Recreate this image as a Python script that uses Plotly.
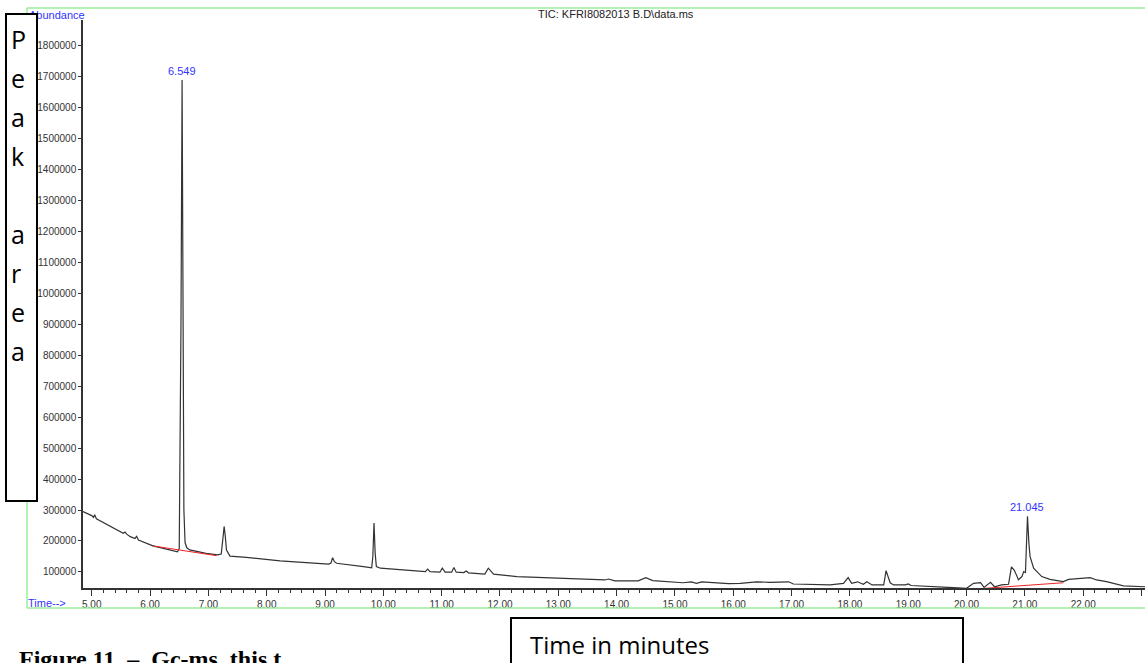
import plotly.graph_objects as go

# ---------------- data ----------------
times = [4.85, 5.00, 5.03, 5.05, 5.08, 5.37, 5.54, 5.57, 5.60, 5.66, 5.74, 5.77, 5.80,
         6.05, 6.29, 6.47, 6.50, 6.53, 6.549, 6.565, 6.58, 6.60, 6.63, 6.68, 6.96, 7.16,
         7.22, 7.25, 7.27, 7.29, 7.31, 7.37, 7.65, 8.23, 8.80, 9.06, 9.10, 9.13, 9.16, 9.20,
         9.66, 9.80, 9.82, 9.84, 9.86, 9.88, 9.95, 10.46, 10.72, 10.76, 10.80, 10.97, 11.01,
         11.06, 11.17, 11.21, 11.25, 11.38, 11.42, 11.46, 11.74, 11.80, 11.89, 12.29, 12.97,
         13.43, 13.80, 13.86, 13.97, 14.37, 14.50, 14.62, 15.14, 15.28, 15.37, 15.46, 15.60,
         15.92, 16.12, 16.40, 16.63, 16.95, 17.03, 17.66, 17.89, 17.97, 18.03, 18.13, 18.23,
         18.29, 18.38, 18.58, 18.62, 18.69, 18.75, 18.95, 19.00, 19.05, 19.78, 20.00, 20.12,
         20.24, 20.30, 20.41, 20.48, 20.60, 20.72, 20.77, 20.82, 20.89, 20.95, 20.98, 21.01,
         21.045, 21.07, 21.09, 21.15, 21.29, 21.43, 21.66, 21.75, 21.95, 22.12, 22.23, 22.40,
         22.69, 23.06]
abundance = [295000, 282000, 276000, 285000, 272000, 241000, 225000, 229000, 222000, 214000,
             208000, 215000, 203000, 184000, 173000, 165000, 175000, 900000, 1690000, 900000,
             300000, 195000, 178000, 171000, 160000, 155000, 158000, 210000, 247000, 215000,
             171000, 151000, 147000, 136000, 128000, 125000, 128000, 146000, 133000, 128000,
             117000, 113000, 150000, 258000, 160000, 117000, 112000, 104000, 101000, 109000,
             101000, 99000, 112000, 99000, 99000, 114000, 99000, 98000, 103000, 97000,
             93000, 112000, 93000, 85000, 79500, 75000, 74000, 77000, 71000, 71000,
             81500, 72000, 65000, 68000, 63000, 68000, 66500, 62000, 63000, 68000,
             66500, 68000, 61000, 58000, 63000, 81500, 63000, 68000, 60000, 68000,
             58000, 58000, 104000, 65000, 58000, 58000, 61000, 56000, 49000, 47000,
             63000, 65000, 50000, 66500, 52000, 58000, 60000, 116000, 105000, 75000,
             85000, 101000, 97000, 280000, 190000, 149000, 112000, 85000, 76000, 68500,
             76000, 79500, 81500, 74000, 68500, 55000, 52000]

# integration baselines (red)
base1_t = [6.05, 7.14]
base1_y = [184000, 152500]
base2_t = [20.32, 21.66]
base2_y = [47000, 65000]

peak_times = [6.549, 21.045]
peak_heights = [1690000, 280000]
peak_labels = ["6.549", "21.045"]

x_range = [4.85, 23.06]
y_range = [48000, 1884000]
y_ticks = [100000 * k for k in range(1, 19)]

title_text = "TIC: KFRI8082013 B.D\\data.ms"
side_letters = ["P", "e", "a", "k", "a", "r", "e", "a"]
side_baselines = [49, 88, 127, 166, 244, 283, 322, 361]

# ---------------- layout helpers ----------------
W, H = 1145, 663
ML, MR, MT, MB = 83, 0, 20, 75
PW, PH = W - ML - MR, H - MT - MB


def pxx(p):
    return (p - ML) / PW


def pxy(p):
    return (H - MB - p) / PH


fig = go.Figure()
fig.add_trace(go.Scatter(x=times, y=abundance, mode="lines",
                         line=dict(color="#333333", width=1.2), hoverinfo="skip",
                         showlegend=False))
for bt, by in [(base1_t, base1_y), (base2_t, base2_y)]:
    fig.add_trace(go.Scatter(x=bt, y=by, mode="lines",
                             line=dict(color="#ee2222", width=1), hoverinfo="skip",
                             showlegend=False))

ann = []
# title
ann.append(dict(text=title_text, x=pxx(616), y=pxy(14), xref="paper", yref="paper",
                xanchor="center", yanchor="middle", showarrow=False,
                font=dict(family="Liberation Sans", size=11, color="#222222")))
# Abundance label
ann.append(dict(text="Abundance", x=pxx(27), y=pxy(15), xref="paper", yref="paper",
                xanchor="left", yanchor="middle", showarrow=False,
                font=dict(family="Liberation Sans", size=11, color="#3333ff")))
# Time--> label
ann.append(dict(text="Time-->", x=pxx(26), y=pxy(603), xref="paper", yref="paper",
                xanchor="left", yanchor="middle", showarrow=False,
                font=dict(family="Liberation Sans", size=11, color="#3333ff")))
# peak labels
for t, h, lab in zip(peak_times, peak_heights, peak_labels):
    ann.append(dict(text=lab, x=t, y=h, xref="x", yref="y", xanchor="center",
                    yanchor="bottom", yshift=1, showarrow=False,
                    font=dict(family="Liberation Sans", size=11, color="#3333ff")))
# Peak area box (covers part of 'Abundance')
ann.append(dict(text=" ", x=pxx(5), y=pxy(13), xref="paper", yref="paper",
                xanchor="left", yanchor="top", showarrow=False, width=29, height=485,
                bgcolor="white", bordercolor="black", borderwidth=2, borderpad=0,
                font=dict(size=4)))
for letter, b in zip(side_letters, side_baselines):
    ann.append(dict(text=letter, x=pxx(9), y=pxy(b - 10), xref="paper", yref="paper",
                    xanchor="left", yanchor="middle", showarrow=False,
                    font=dict(family="Open Sans", size=25, color="black")))
# Time in minutes
ann.append(dict(text="Time in minutes", x=pxx(528), y=pxy(644), xref="paper", yref="paper",
                xanchor="left", yanchor="middle", showarrow=False,
                font=dict(family="Open Sans", size=24, color="black")))
# figure caption (clipped at bottom, as in the reference)
ann.append(dict(text="<b>Figure 11&nbsp; –&nbsp; Gc-ms&nbsp; this t</b>", x=pxx(17), y=pxy(659),
                xref="paper", yref="paper", xanchor="left", yanchor="middle",
                showarrow=False,
                font=dict(family="Liberation Serif", size=24, color="black")))

green = "#99ee99"
shapes = [
    dict(type="line", xref="paper", yref="paper", x0=pxx(27), x1=1.02, y0=pxy(8), y1=pxy(8),
         line=dict(color=green, width=1.5)),
    dict(type="line", xref="paper", yref="paper", x0=pxx(27), x1=pxx(27), y0=pxy(8), y1=pxy(608),
         line=dict(color=green, width=1.5)),
    dict(type="line", xref="paper", yref="paper", x0=pxx(27), x1=1.02, y0=pxy(608), y1=pxy(608),
         line=dict(color=green, width=1.5)),
    dict(type="rect", xref="paper", yref="paper", x0=pxx(511), x1=pxx(963), y0=pxy(618), y1=pxy(700),
         line=dict(color="black", width=2), fillcolor="white", layer="below"),
]

fig.update_layout(
    width=W, height=H,
    margin=dict(l=ML, r=MR, t=MT, b=MB, autoexpand=False),
    paper_bgcolor="white", plot_bgcolor="white",
    annotations=ann, shapes=shapes, showlegend=False,
    font=dict(family="Liberation Sans", size=10, color="#333333"),
    xaxis=dict(range=x_range, tick0=5, dtick=1, tickformat=".2f", showgrid=False,
               zeroline=False, showline=True, linecolor="#333333", linewidth=1.5,
               ticks="outside", ticklen=6, tickcolor="#333333", tickwidth=1.2,
               tickfont=dict(size=10, color="#333333"), automargin=False,
               minor=dict(dtick=0.2, tick0=5, ticks="outside", ticklen=3,
                          tickcolor="#333333", showgrid=False)),
    yaxis=dict(range=y_range, tickvals=y_ticks, ticktext=[str(v) for v in y_ticks],
               showgrid=False, zeroline=False, showline=True, linecolor="#333333",
               linewidth=1.5, ticks="outside", ticklen=3, tickcolor="#333333",
               tickfont=dict(size=10, color="#333333"), automargin=False),
)

fig.write_html("out.html", config={"displayModeBar": False},
               post_script="document.body.style.margin='0';document.body.style.overflow='hidden';")
